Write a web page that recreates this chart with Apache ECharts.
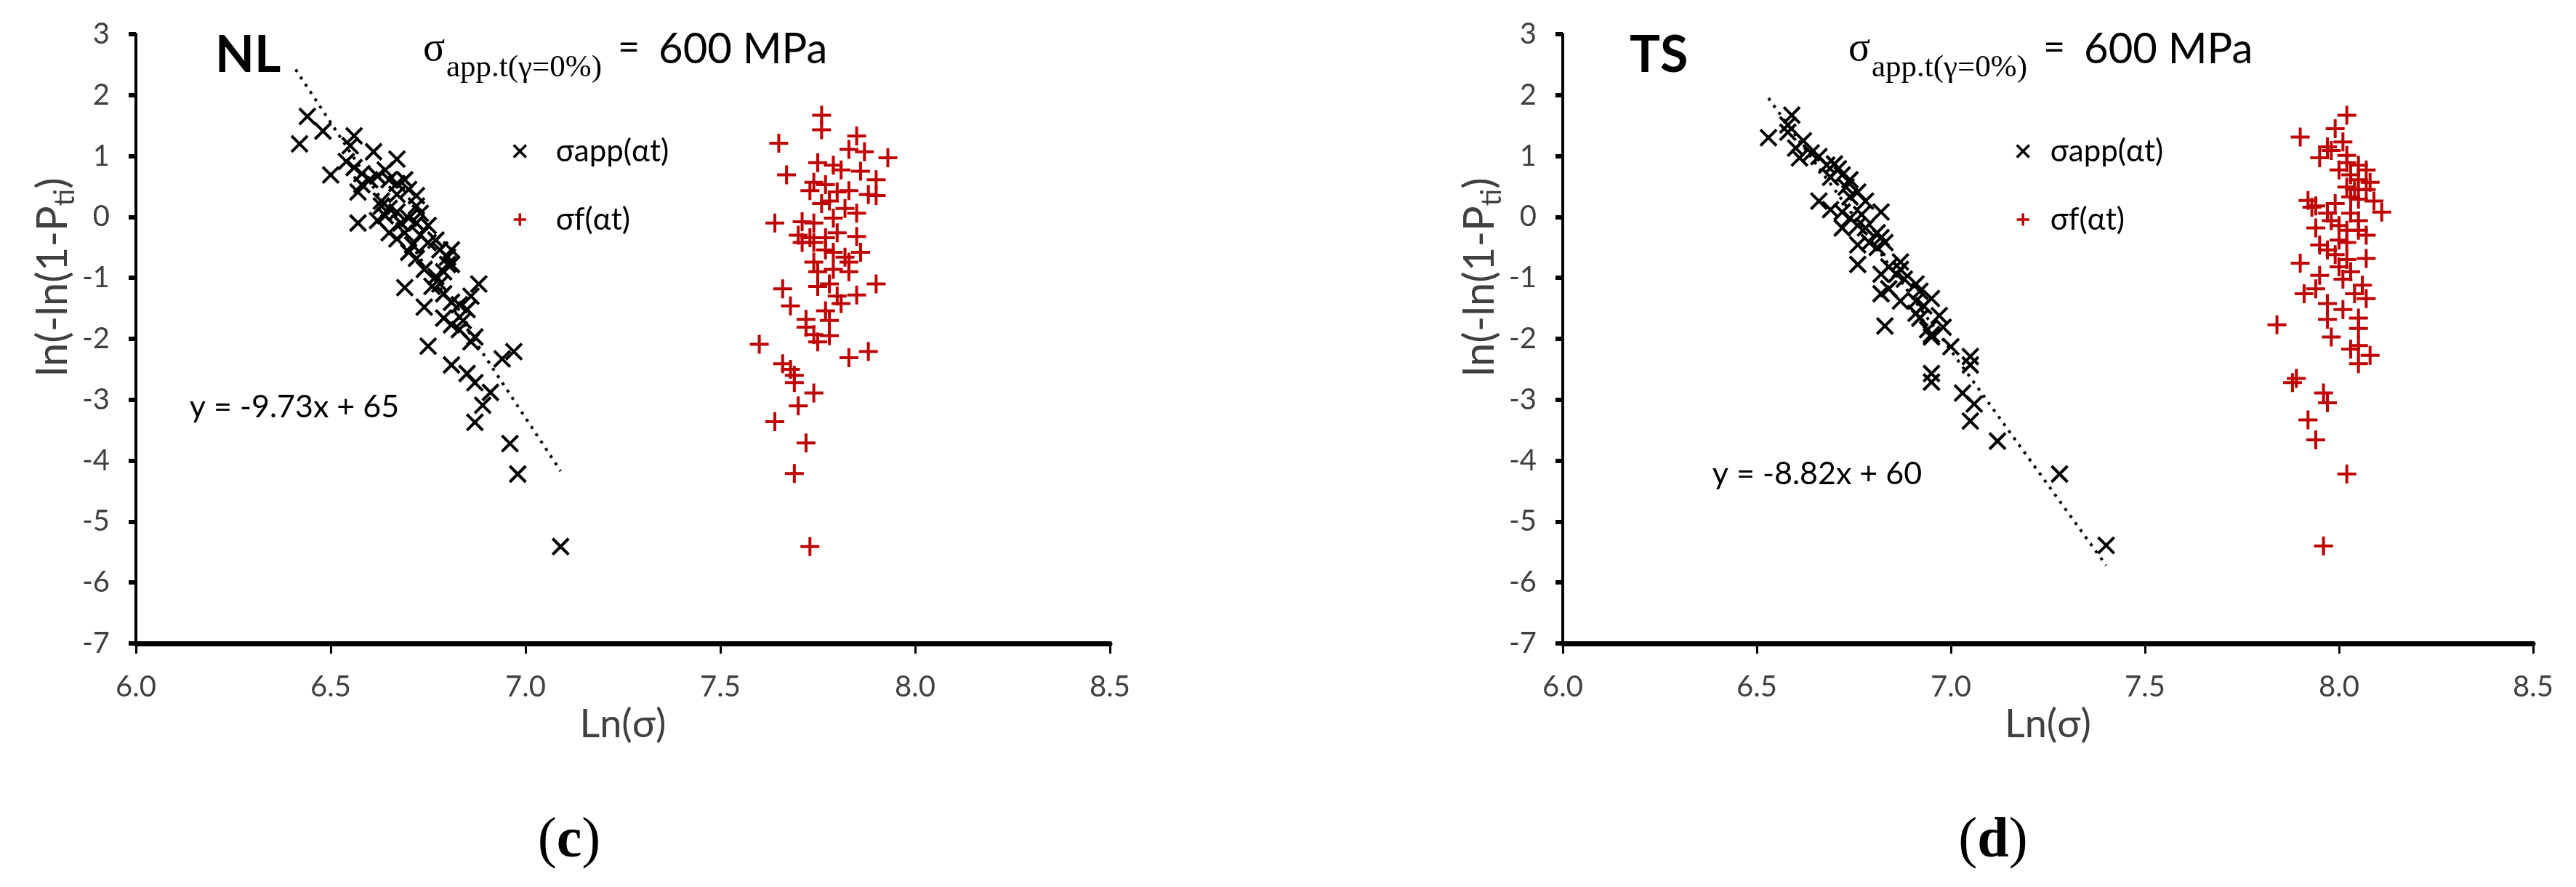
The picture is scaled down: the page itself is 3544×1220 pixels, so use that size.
<!DOCTYPE html>
<html>
<head>
<meta charset="utf-8">
<script src="https://cdn.jsdelivr.net/npm/echarts@6.0.0/dist/echarts.min.js"></script>
<style>
html, body { margin: 0; padding: 0; background: #fff; }
#chart { width: 3544px; height: 1220px; }
</style>
</head>
<body>
<div id="chart"></div>
<script>
// panel (c) NL
const nlApp = [[6.44,1.65],[6.48,1.41],[6.42,1.20],[6.56,1.33],[6.55,1.17],[6.61,1.07],[6.67,0.95],[6.50,0.69],[6.54,0.91],[6.56,0.81],
  [6.58,0.71],[6.58,0.53],[6.57,0.41],[6.60,0.61],[6.62,0.67],[6.64,0.77],[6.65,0.61],[6.67,0.55],[6.69,0.61],[6.72,0.35],
  [6.63,0.26],[6.65,0.14],[6.57,-0.10],[6.62,-0.06],[6.64,0.02],[6.67,0.08],[6.70,-0.02],[6.72,-0.10],[6.73,0.06],[6.65,-0.26],
  [6.67,-0.36],[6.69,-0.26],[6.71,-0.46],[6.73,-0.30],[6.75,-0.42],[6.77,-0.38],[6.78,-0.54],[6.80,-0.66],[6.81,-0.78],[6.79,-0.90],
  [6.77,-0.98],[6.74,-0.86],[6.72,-0.68],[6.70,-0.58],[6.69,-1.16],[6.74,-1.48],[6.76,-1.14],[6.78,-1.10],[6.79,-1.26],[6.81,-1.40],
  [6.83,-1.44],[6.85,-1.52],[6.86,-1.30],[6.88,-1.10],[6.79,-1.66],[6.81,-1.77],[6.83,-1.85],[6.84,-1.70],[6.87,-1.97],[6.86,-2.05],
  [6.81,-0.54],[6.80,-0.78],[6.63,0.18],[6.68,-0.10],[6.75,-0.14],[6.72,0.18],[6.67,0.37],[6.70,0.45],[6.75,-2.12],[6.97,-2.21],
  [6.94,-2.33],[6.81,-2.43],[6.85,-2.57],[6.87,-2.72],[6.91,-2.88],[6.89,-3.09],[6.87,-3.37],[6.96,-3.72],[6.98,-4.22],[7.09,-5.41]];
const nlFrac = [[7.76,1.67],[7.76,1.43],[7.65,1.21],[7.85,1.33],[7.83,1.11],[7.87,1.07],[7.93,0.97],[7.67,0.69],[7.75,0.89],[7.79,0.85],
  [7.81,0.77],[7.86,0.75],[7.90,0.61],[7.74,0.57],[7.77,0.53],[7.73,0.43],[7.80,0.41],[7.83,0.43],[7.88,0.37],[7.90,0.35],
  [7.76,0.22],[7.78,0.26],[7.82,0.14],[7.85,0.06],[7.79,-0.02],[7.64,-0.10],[7.71,-0.08],[7.74,-0.10],[7.70,-0.30],[7.73,-0.34],
  [7.77,-0.34],[7.80,-0.26],[7.85,-0.32],[7.71,-0.42],[7.74,-0.42],[7.77,-0.54],[7.79,-0.58],[7.82,-0.66],[7.83,-0.74],[7.86,-0.58],
  [7.74,-0.74],[7.75,-0.90],[7.79,-0.86],[7.83,-0.90],[7.75,-1.14],[7.78,-1.10],[7.90,-1.10],[7.66,-1.18],[7.80,-1.30],[7.85,-1.28],
  [7.68,-1.46],[7.81,-1.42],[7.77,-1.54],[7.72,-1.68],[7.78,-1.70],[7.72,-1.81],[7.74,-1.93],[7.78,-1.95],[7.75,-2.05],[7.60,-2.09],
  [7.88,-2.21],[7.83,-2.31],[7.66,-2.41],[7.68,-2.50],[7.69,-2.60],[7.69,-2.72],[7.74,-2.89],[7.70,-3.10],[7.64,-3.36],[7.72,-3.71],
  [7.69,-4.21],[7.73,-5.41]];
const nlTrend = [[6.41, 2.42], [7.09, -4.17]];

// panel (d) TS
const tsApp = [[6.53,1.30],[6.59,1.67],[6.58,1.51],[6.58,1.39],[6.62,1.25],[6.60,1.13],[6.61,0.97],[6.64,1.05],[6.66,0.99],[6.68,0.85],
  [6.70,0.87],[6.71,0.79],[6.72,0.69],[6.69,0.65],[6.74,0.61],[6.73,0.49],[6.76,0.41],[6.74,0.33],[6.78,0.26],[6.66,0.26],
  [6.69,0.12],[6.72,0.08],[6.74,-0.02],[6.77,0.04],[6.82,0.08],[6.72,-0.18],[6.76,-0.14],[6.78,-0.18],[6.81,-0.26],[6.82,-0.34],
  [6.76,-0.46],[6.79,-0.42],[6.81,-0.50],[6.83,-0.42],[6.76,-0.78],[6.82,-0.94],[6.84,-0.82],[6.87,-0.74],[6.87,-0.86],[6.86,-0.94],
  [6.88,-1.02],[6.82,-1.26],[6.84,-1.18],[6.87,-1.38],[6.91,-1.10],[6.92,-1.22],[6.91,-1.38],[6.95,-1.34],[6.91,-1.58],[6.92,-1.66],
  [6.93,-1.46],[6.97,-1.62],[6.98,-1.81],[6.94,-1.85],[6.95,-1.97],[6.83,-1.79],[6.95,-1.93],[7.00,-2.13],[7.05,-2.29],[7.05,-2.43],
  [6.95,-2.57],[6.95,-2.71],[7.03,-2.89],[7.06,-3.07],[7.05,-3.35],[7.12,-3.68],[7.28,-4.22],[7.40,-5.39]];
const tsFrac = [[8.02,1.67],[7.99,1.45],[7.90,1.31],[8.01,1.23],[7.97,1.15],[7.98,1.09],[7.95,0.97],[8.02,1.01],[8.02,0.89],[8.00,0.77],
  [8.05,0.85],[8.07,0.77],[8.03,0.69],[8.05,0.61],[8.08,0.57],[8.02,0.49],[8.04,0.45],[8.07,0.45],[8.03,0.33],[8.05,0.29],
  [8.09,0.26],[8.11,0.08],[7.92,0.27],[7.93,0.16],[7.94,0.18],[7.99,0.22],[7.97,0.06],[8.03,0.06],[7.98,-0.06],[8.05,-0.06],
  [7.94,-0.18],[8.00,-0.14],[8.02,-0.22],[8.05,-0.22],[8.07,-0.30],[8.00,-0.38],[8.02,-0.42],[7.95,-0.46],[7.97,-0.54],[7.99,-0.62],
  [8.02,-0.70],[8.07,-0.68],[7.90,-0.76],[8.00,-0.82],[8.03,-0.90],[8.01,-1.02],[7.95,-0.96],[7.94,-1.18],[8.06,-1.12],[7.91,-1.26],
  [8.04,-1.26],[8.07,-1.34],[7.97,-1.42],[8.01,-1.52],[7.97,-1.68],[8.05,-1.66],[8.05,-1.83],[7.98,-1.97],[8.03,-2.17],[8.05,-2.11],
  [7.84,-1.77],[8.08,-2.27],[8.05,-2.41],[7.89,-2.65],[7.88,-2.72],[7.96,-2.89],[7.97,-3.05],[7.92,-3.33],[7.94,-3.66],[8.02,-4.22],
  [7.96,-5.40]];
const tsTrend = [[6.53, 1.95], [7.40, -5.72]];

const panelNames = ['NL', 'TS'];
const captions = ['c', 'd'];
const equations = ['y = -9.73x + 65', 'y = -8.82x + 60'];
const legendNames = ['σapp(αt)', 'σf(αt)'];

const crossMark = 'path://M0,0L10,10M10,0L0,10';
const plusMark = 'path://M5,0L5,10M0,5L10,5';
const red = '#c00000';

const grids = [
  { left: 187, top: 47, width: 1340, height: 838 },
  { left: 2150, top: 47, width: 1335, height: 838 }
];

function xAxisFor(i) {
  return {
    type: 'value', gridIndex: i, min: 6, max: 8.5, interval: 0.5,
    axisLine: { onZero: false, lineStyle: { color: '#000', width: 7 } },
    axisTick: { length: 14, lineStyle: { color: '#000', width: 3 } },
    splitLine: { show: false },
    axisLabel: { margin: 40, fontSize: 40, fontFamily: 'Lato', color: '#404040', formatter: v => v.toFixed(1) },
    name: 'Ln(σ)', nameLocation: 'middle', nameGap: 78,
    nameTextStyle: { fontSize: 54, fontFamily: 'Lato', color: '#404040' }
  };
}

function yAxisFor(i) {
  return {
    type: 'value', gridIndex: i, min: -7, max: 3, interval: 1,
    axisLine: { onZero: false, lineStyle: { color: '#000', width: 4 } },
    axisTick: { length: 10, lineStyle: { color: '#000', width: 6 } },
    splitLine: { show: false },
    axisLabel: { margin: 36, fontSize: 40, fontFamily: 'Lato', color: '#404040' },
    name: '{a|ln(-ln(1-P}{s|ti}{a|)}', nameLocation: 'middle', nameGap: 64,
    nameTextStyle: {
      padding: [0, 0, 0, 170],
      rich: {
        a: { fontSize: 58, fontFamily: 'Lato', color: '#404040', lineHeight: 72, verticalAlign: 'middle' },
        s: { fontSize: 38, fontFamily: 'Lato', color: '#404040', lineHeight: 38, verticalAlign: 'bottom' }
      }
    }
  };
}

function scatterFor(i, name, data, mark, color, size) {
  return {
    name: name, type: 'scatter', xAxisIndex: i, yAxisIndex: i, data: data,
    symbol: mark, symbolSize: size,
    itemStyle: { color: color, borderColor: color, borderWidth: 4, opacity: 1 }
  };
}

function trendFor(i, data) {
  return {
    type: 'line', xAxisIndex: i, yAxisIndex: i, data: data, symbol: 'none', silent: true,
    lineStyle: { color: '#000', width: 4, type: [4, 8] }
  };
}

function legendFor(left, pad) {
  return {
    orient: 'vertical', left: left, top: 178, itemGap: 44, itemWidth: 17, itemHeight: 17,
    textStyle: { fontSize: 42, fontFamily: 'Lato', color: '#000', lineHeight: 50, padding: [0, 0, 0, pad] },
    data: [
      { name: legendNames[0], icon: crossMark, itemStyle: { color: '#000', borderColor: '#000', borderWidth: 3.5 } },
      { name: legendNames[1], icon: plusMark, itemStyle: { color: red, borderColor: red, borderWidth: 3.5 } }
    ]
  };
}

// text put on top of each panel
const graphics = [];
[0, 1961].forEach((dx, i) => {
  graphics.push(
    { type: 'text', x: 296 + dx - (i ? 15 : 0), y: 76, style: { text: panelNames[i], font: 'bold 70px Lato', fill: '#000', verticalAlign: 'middle' } },
    { type: 'text', x: 582 + dx, y: 68, style: { text: 'σ', font: '56px "Liberation Serif"', fill: '#000', verticalAlign: 'middle' } },
    { type: 'text', x: 614 + dx, y: 94, style: { text: 'app.t(γ=0%)', font: '43px "Liberation Serif"', fill: '#000', verticalAlign: 'middle' } },
    { type: 'text', x: 850 + dx, y: 66, style: { text: '=', font: '52px Lato', fill: '#000', verticalAlign: 'middle' } },
    { type: 'text', x: 906 + dx, y: 68, style: { text: '600 MPa', font: '58px Lato', fill: '#000', verticalAlign: 'middle' } }
  );
});
graphics.push(
  { type: 'text', x: 405, y: 560, style: { text: equations[0], font: '43px Lato', fill: '#000', align: 'center', verticalAlign: 'middle' } },
  { type: 'text', x: 2500, y: 652, style: { text: equations[1], font: '43px Lato', fill: '#000', align: 'center', verticalAlign: 'middle' } }
);
[783, 2742].forEach((cx, i) => {
  graphics.push({
    type: 'text', x: cx, y: 1158,
    style: {
      text: '{n|(}{b|' + captions[i] + '}{n|)}', align: 'center', verticalAlign: 'middle',
      rich: {
        n: { fontSize: 78, fontFamily: 'Liberation Serif', color: '#000' },
        b: { fontSize: 78, fontFamily: 'Liberation Serif', fontWeight: 'bold', color: '#000' }
      }
    }
  });
});

const option = {
  backgroundColor: '#fff',
  animation: false,
  grid: grids,
  xAxis: [xAxisFor(0), xAxisFor(1)],
  yAxis: [yAxisFor(0), yAxisFor(1)],
  legend: [legendFor(700, 36), legendFor(2768, 24)],
  graphic: graphics,
  series: [
    trendFor(0, nlTrend),
    scatterFor(0, legendNames[0], nlApp, crossMark, '#000', 22),
    scatterFor(0, legendNames[1], nlFrac, plusMark, red, 26),
    trendFor(1, tsTrend),
    scatterFor(1, legendNames[0], tsApp, crossMark, '#000', 22),
    scatterFor(1, legendNames[1], tsFrac, plusMark, red, 26)
  ]
};

const chart = echarts.init(document.getElementById('chart'));
chart.setOption(option);
</script>
</body>
</html>
